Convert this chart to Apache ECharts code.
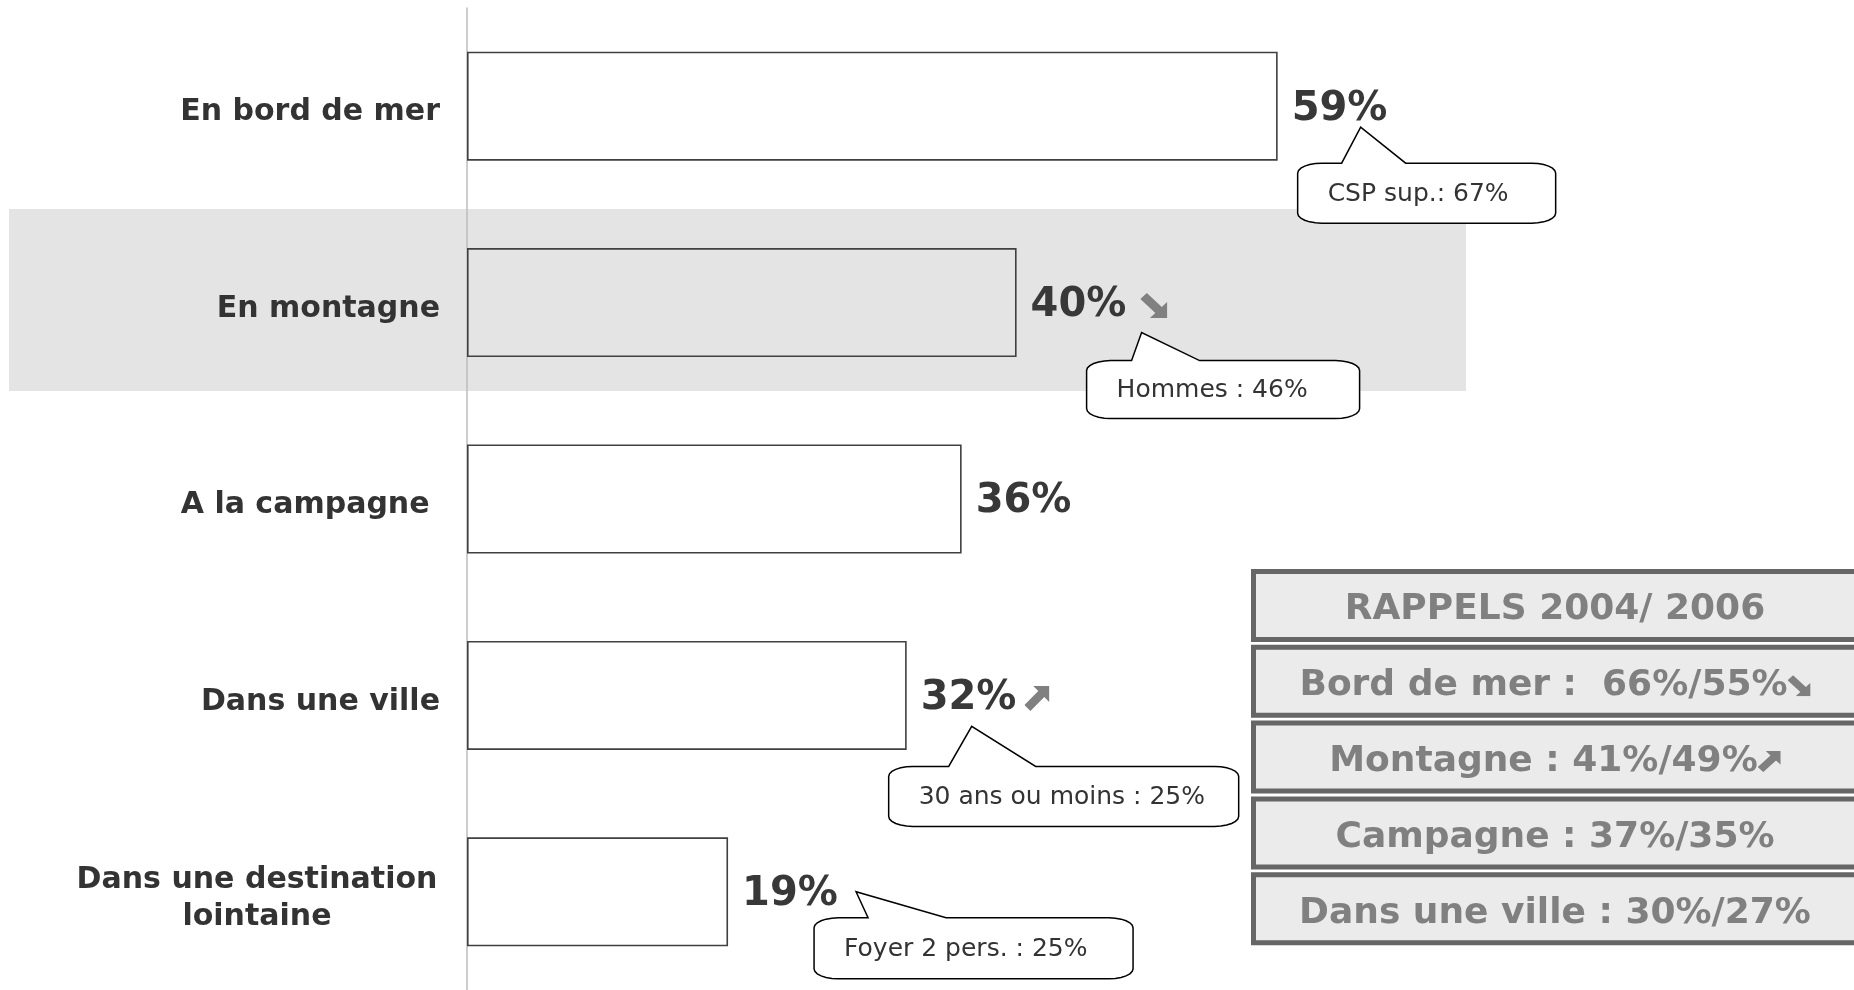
<!DOCTYPE html>
<html>
<head>
<meta charset="utf-8">
<script src="https://cdn.jsdelivr.net/npm/echarts@6/dist/echarts.min.js"></script>
<style>
  html, body { margin: 0; padding: 0; background: #fff; }
  #chart { width: 1854px; height: 990px; }
</style>
</head>
<body>
<div id="chart"></div>
<script>
// donnees
const categories = ['En bord de mer', 'En montagne', 'A la campagne ', 'Dans une ville', 'Dans une destination\nlointaine']
const barValues = [59, 40, 36, 32, 19]
const barTrends = ['', 'down', '', 'up', '']

// bulles de commentaire : categorie visee + texte
const calloutCats = [0, 1, 3, 4]
const calloutTexts = ['CSP sup.: 67%', 'Hommes : 46%', '30 ans ou moins : 25%', 'Foyer 2 pers. : 25%']

// encadre des rappels
const rappelsLines = ['RAPPELS 2004/ 2006', 'Bord de mer :  66%/55%', 'Montagne : 41%/49%', 'Campagne : 37%/35%', 'Dans une ville : 30%/27%']
const rappelsTrends = ['', 'down', 'up', '', '']

// placement des bulles par rapport au bout de la barre (px)
const calloutLayout = [
  { dx: 20, dy: 57, w: 258, h: 60, b1: 64, b2: 128, tx: 83, ty: 21 },
  { dx: 70, dy: 58, w: 273, h: 58, b1: 115, b2: 183, tx: 125, ty: 30 },
  { dx: -18, dy: 71, w: 350, h: 60, b1: 42, b2: 129, tx: 65, ty: 31 },
  { dx: 86, dy: 26, w: 319, h: 61, b1: 140, b2: 218, tx: 128, ty: 0 }
]

const FONT = '"DejaVu Sans", Verdana, sans-serif'
const GREY = '#808080'

// petite fleche epaisse (hausse / baisse) en svg
function arrowUri(dir) {
  const pts = dir === 'down'
    ? '100,100 35,100 55.5,79.5 0,24 24,0 79.5,55.5 100,35'
    : '100,0 35,0 55.5,20.5 0,76 24,100 79.5,44.5 100,65'
  const svg = '<svg xmlns="http://www.w3.org/2000/svg" width="100" height="100" viewBox="0 0 100 100">' +
    '<polygon points="' + pts + '" fill="' + GREY + '"/></svg>'
  return 'data:image/svg+xml;charset=utf-8,' + encodeURIComponent(svg)
}

function bubblePoints(x0, y0, w, h, b1, b2, tip) {
  const rx = 24
  const ry = 10
  const pts = []
  function arc(cx, cy, a0, a1) {
    for (let k = 0; k <= 6; k++) {
      const a = a0 + (a1 - a0) * k / 6
      pts.push([cx + rx * Math.cos(a), cy + ry * Math.sin(a)])
    }
  }
  arc(x0 + rx, y0 + ry, Math.PI, Math.PI * 1.5)
  pts.push([b1, y0], tip, [b2, y0])
  arc(x0 + w - rx, y0 + ry, -Math.PI / 2, 0)
  arc(x0 + w - rx, y0 + h - ry, 0, Math.PI / 2)
  arc(x0 + rx, y0 + h - ry, Math.PI / 2, Math.PI)
  return pts
}

// encadre RAPPELS a droite
const rappelsText = { fontSize: 36, fontWeight: 'bold', fontFamily: FONT, fill: GREY }
const rappelsGraphics = []
rappelsLines.forEach(function(txt, i) {
  const top = 569 + i * 75.8
  const trend = rappelsTrends[i]
  rappelsGraphics.push({
    type: 'rect',
    z: 10,
    shape: { x: 1253.5, y: top + 2.5, width: 640, height: 68 },
    style: { fill: '#ebebeb', stroke: '#666666', lineWidth: 5 }
  })
  rappelsGraphics.push({
    type: 'text',
    z: 11,
    style: {
      text: '{t|' + txt + '}' + (trend ? '{' + trend + '|}' : ''),
      x: 1555,
      y: top + 41,
      textAlign: 'center',
      textVerticalAlign: 'middle',
      fontSize: 36,
      fontWeight: 'bold',
      fontFamily: FONT,
      fill: GREY,
      rich: {
        t: rappelsText,
        down: { width: 23, height: 21, backgroundColor: { image: arrowUri('down') } },
        up: { width: 23, height: 21, backgroundColor: { image: arrowUri('up') } }
      }
    }
  })
})

const chart = echarts.init(document.getElementById('chart'))

const option = {
  animation: false,
  backgroundColor: '#ffffff',
  textStyle: { fontFamily: FONT },
  grid: { left: 467, top: 8, width: 1374, height: 985 },
  graphic: [
    {
      type: 'rect',
      z: -1,
      shape: { x: 9, y: 209, width: 1457, height: 182 },
      style: { fill: '#e4e4e4' }
    }
  ].concat(rappelsGraphics),
  xAxis: {
    type: 'value',
    min: 0,
    max: 100,
    show: false
  },
  yAxis: {
    type: 'category',
    inverse: true,
    data: categories,
    axisTick: { show: false },
    axisLine: { show: true, lineStyle: { color: '#bdbdbd', width: 1.5 } },
    axisLabel: {
      margin: 27,
      fontSize: 30,
      fontWeight: 'bold',
      color: '#333333',
      lineHeight: 37,
      padding: [13, 0, 0, 0],
      formatter: function(value) {
        if (value.indexOf('\n') < 0) return value
        return value.split('\n').map(function(s) { return '{c|' + s + '}' }).join('\n')
      },
      rich: {
        c: { width: 366, align: 'center', fontSize: 30, fontWeight: 'bold', color: '#333333', lineHeight: 37 }
      }
    }
  },
  series: [
    {
      type: 'bar',
      data: barValues,
      barWidth: 109,
      itemStyle: { color: 'rgba(0,0,0,0)', borderColor: '#404040', borderWidth: 1.6 },
      label: {
        show: true,
        position: 'right',
        distance: 14,
        offset: [0, 3],
        formatter: function(p) {
          const trend = barTrends[p.dataIndex]
          if (!trend) return '{v|' + p.value + '%}'
          return '{v|' + p.value + '%}{gap_' + trend + '|}{' + trend + '|}'
        },
        rich: {
          v: { fontSize: 40, fontWeight: 'bold', color: '#383838' },
          gap_down: { width: 14 },
          gap_up: { width: 8 },
          down: { width: 27, height: 25, backgroundColor: { image: arrowUri('down') } },
          up: { width: 25, height: 25, backgroundColor: { image: arrowUri('up') } }
        }
      }
    },
    {
      type: 'custom',
      z: 5,
      data: calloutCats.map(function(ci) { return [barValues[ci], ci] }),
      encode: { x: 0, y: 1 },
      renderItem: function(params, api) {
        const i = params.dataIndex
        const L = calloutLayout[i]
        const pt = api.coord([api.value(0), api.value(1)])
        const x0 = pt[0] + L.dx
        const y0 = pt[1] + L.dy
        const pts = bubblePoints(x0, y0, L.w, L.h, pt[0] + L.b1, pt[0] + L.b2, [pt[0] + L.tx, pt[1] + L.ty])
        return {
          type: 'group',
          children: [
            {
              type: 'polygon',
              shape: { points: pts },
              style: { fill: '#ffffff', stroke: '#000000', lineWidth: 1.5 }
            },
            {
              type: 'text',
              style: {
                text: calloutTexts[i],
                x: x0 + 30,
                y: y0 + L.h / 2 + 1,
                textAlign: 'left',
                textVerticalAlign: 'middle',
                font: '25px ' + FONT,
                fill: '#333333'
              }
            }
          ]
        }
      }
    }
  ]
}

chart.setOption(option)
</script>
</body>
</html>
